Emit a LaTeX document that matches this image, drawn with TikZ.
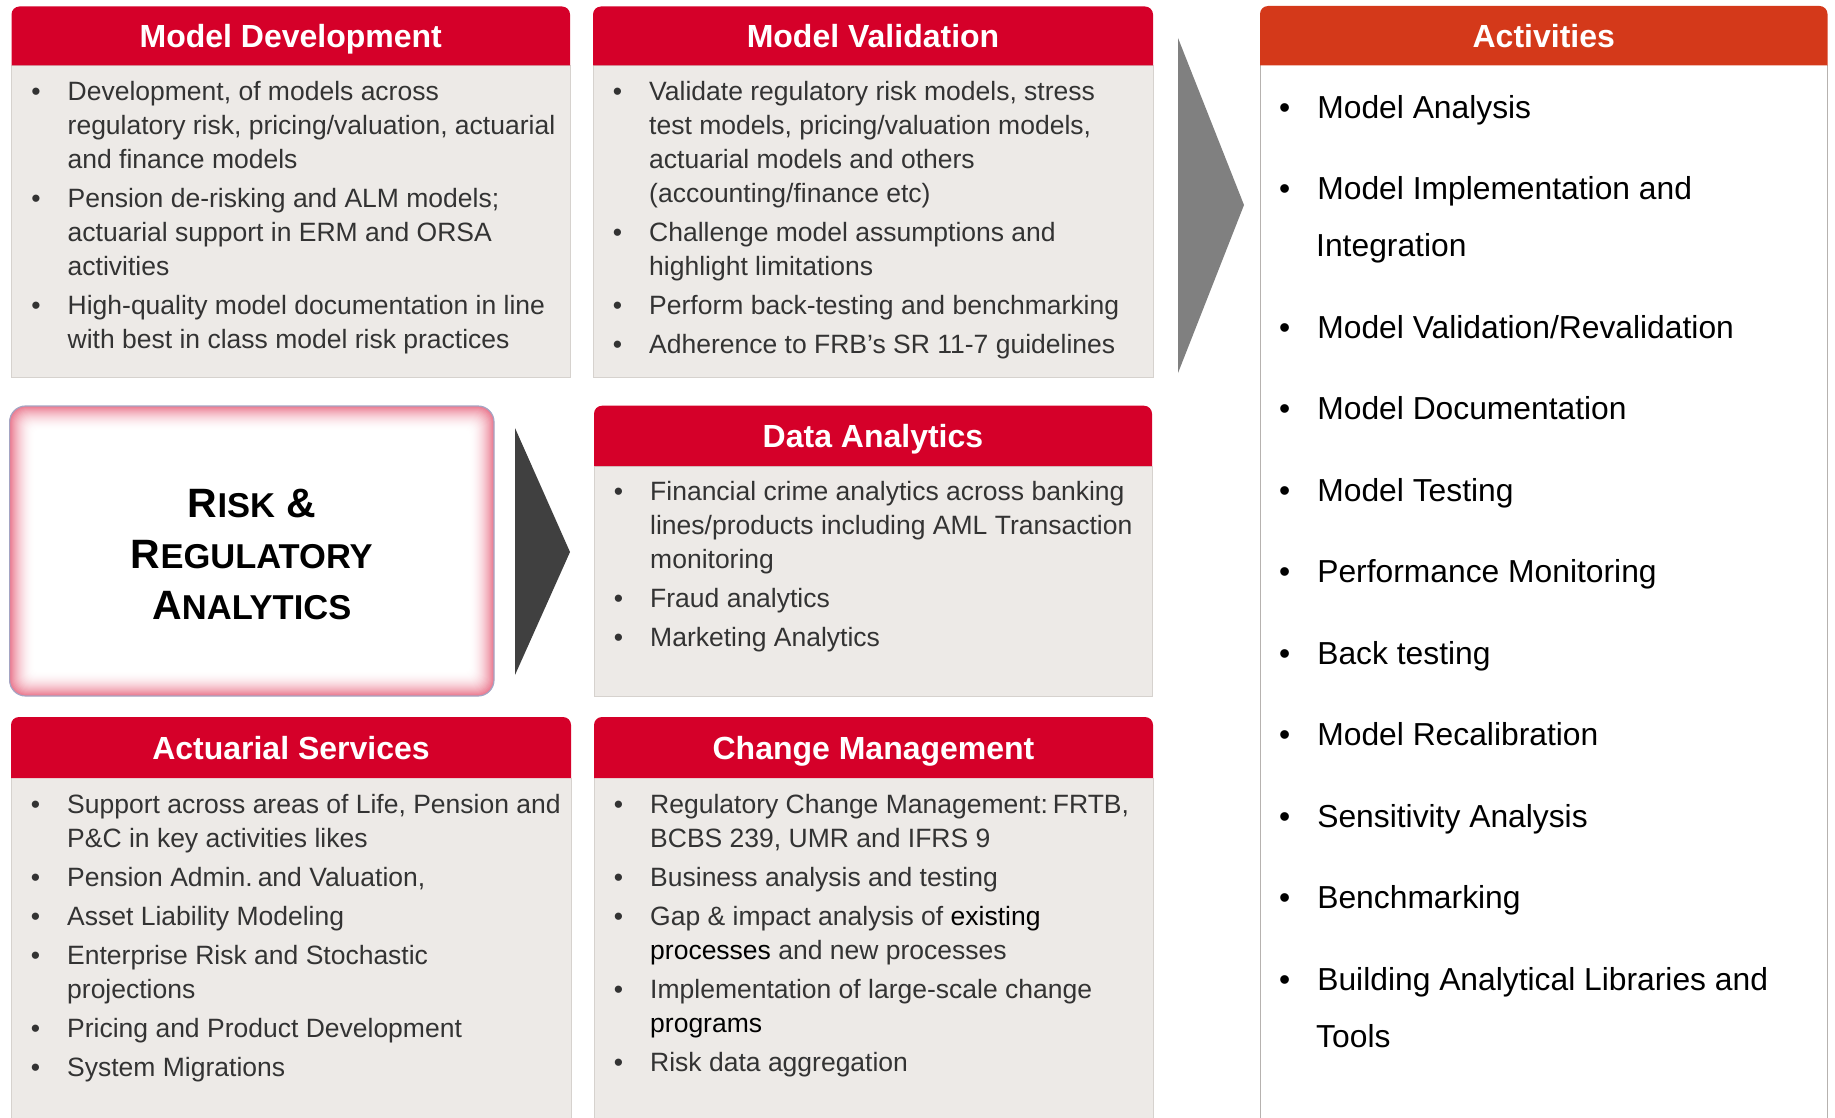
\documentclass[tikz,border=0pt]{standalone}
\usepackage{fontspec}
\setmainfont{Liberation Sans}
\usepackage{tikz}

\definecolor{headred}{RGB}{213,0,41}
\definecolor{headorange}{RGB}{212,57,26}
\definecolor{bodygray}{RGB}{237,234,231}
\definecolor{edgegray}{RGB}{214,210,206}
\definecolor{textgray}{RGB}{51,51,51}
\definecolor{arrowgray}{RGB}{128,128,128}
\definecolor{arrowdark}{RGB}{64,64,64}
\definecolor{glowred}{RGB}{222,40,75}
\definecolor{rimblue}{RGB}{165,165,195}

% #1 font size, #2 line distance, #3 gap between items
\newenvironment{bulletlist}[3]{%
  \setlength{\linewidth}{\hsize}%
  \fontsize{#1}{#2}\selectfont\raggedright
  \spaceskip=0.278em plus 0.1em minus 0.05em
  \begin{list}{\textbullet}{%
    \setlength{\leftmargin}{56pt}\setlength{\labelwidth}{10pt}%
    \setlength{\labelsep}{27pt}\setlength{\itemsep}{#3}%
    \setlength{\parsep}{0pt}\setlength{\topsep}{0pt}%
    \setlength{\partopsep}{0pt}\setlength{\itemindent}{0pt}}}
  {\end{list}}

\newcommand{\capsmall}[2]{{\fontsize{41}{51}\selectfont #1}{\fontsize{34.5}{51}\selectfont #2}}

\begin{document}
\begin{tikzpicture}[x=1pt,y=-1pt,
    title/.style={anchor=base,text=white,font=\bfseries\fontsize{32}{36}\selectfont},
    body/.style={anchor=north west,inner sep=0pt,text width=640pt,text=textgray},
    risk/.style={anchor=base,font=\bfseries}]
    \useasboundingbox (0,0) rectangle (1835,1118);

    % Model Development
    \filldraw[fill=bodygray,draw=edgegray] (11.5,65.5) rectangle (570,377);
    \fill[headred] (11.5,65.5) [rounded corners=8pt] -- (11.5,6.5) -- (570,6.5) [sharp corners] -- (570,65.5) -- cycle;
    \node[title] (mdtitle) at (290.75,47.5) {Model Development};
    \node[body] (mdlist) at (11.5,66) {\begin{bulletlist}{26.5}{34pt}{5pt}
        \item Development, of models across\\ regulatory risk, pricing/valuation, actuarial\\ and finance models
        \item Pension de-risking and ALM models;\\ actuarial support in ERM and ORSA\\ activities
        \item High-quality model documentation in line\\ with best in class model risk practices
    \end{bulletlist}};

    % Model Validation
    \filldraw[fill=bodygray,draw=edgegray] (593,65.5) rectangle (1153,377);
    \fill[headred] (593,65.5) [rounded corners=8pt] -- (593,6.5) -- (1153,6.5) [sharp corners] -- (1153,65.5) -- cycle;
    \node[title] (mvtitle) at (873,47.5) {Model Validation};
    \node[body] (mvlist) at (593,66) {\begin{bulletlist}{26.5}{34pt}{5pt}
        \item Validate regulatory risk models, stress\\ test models, pricing/valuation models,\\ actuarial models and others\\ (accounting/finance etc)
        \item Challenge model assumptions and\\ highlight limitations
        \item Perform back-testing and benchmarking
        \item Adherence to FRB’s SR 11-7 guidelines
    \end{bulletlist}};

    % Risk & Regulatory Analytics
    \foreach \k in {0,...,24}{
        \pgfmathsetmacro\pct{62*(1-\k/25)^2}
        \pgfmathsetmacro\rad{max(16-0.5*\k,3)}
        \fill[glowred!\pct!white,rounded corners=\rad pt] ({9.6+\k},{406+\k}) rectangle ({494-\k},{696-\k});
    }
    \draw[rimblue,line width=1.2pt,rounded corners=16pt] (9.6,406) rectangle (494,696);
    \node[risk] (risk1) at (251.8,517) {\capsmall{R}{ISK}\hspace{11pt}\capsmall{\&}{}};
    \node[risk] (risk2) at (251.8,568) {\capsmall{R}{EGULATORY}};
    \node[risk] (risk3) at (251.8,619) {\capsmall{A}{NALYTICS}};

    \fill[arrowdark] (515,428) -- (570,552) -- (515,675) -- cycle;

    % Data Analytics
    \filldraw[fill=bodygray,draw=edgegray] (594,466) rectangle (1152,696);
    \fill[headred] (594,466) [rounded corners=8pt] -- (594,405.7) -- (1152,405.7) [sharp corners] -- (1152,466) -- cycle;
    \node[title] (datitle) at (873,447.5) {Data Analytics};
    \node[body] (dalist) at (594,466) {\begin{bulletlist}{26.5}{34pt}{5pt}
        \item Financial crime analytics across banking\\ lines/products including AML Transaction\\ monitoring
        \item Fraud analytics
        \item Marketing Analytics
    \end{bulletlist}};

    % Actuarial Services
    \fill[bodygray] (11,778) rectangle (571,1118);
    \draw[edgegray] (11,778) -- (11,1118) (571,778) -- (571,1118);
    \fill[headred] (11,778) [rounded corners=8pt] -- (11,717) -- (571,717) [sharp corners] -- (571,778) -- cycle;
    \node[title] (astitle) at (291,759) {Actuarial Services};
    \node[body] (aslist) at (11,779) {\begin{bulletlist}{26.5}{34pt}{5pt}
        \item Support across areas of Life, Pension and\\ P\&C in key activities likes
        \item Pension Admin. and Valuation,
        \item Asset Liability Modeling
        \item Enterprise Risk and Stochastic\\ projections
        \item Pricing and Product Development
        \item System Migrations
    \end{bulletlist}};

    % Change Management
    \fill[bodygray] (594,778) rectangle (1153,1118);
    \draw[edgegray] (594,778) -- (594,1118) (1153,778) -- (1153,1118);
    \fill[headred] (594,778) [rounded corners=8pt] -- (594,717) -- (1153,717) [sharp corners] -- (1153,778) -- cycle;
    \node[title] (cmtitle) at (873.5,759) {Change Management};
    \node[body] (cmlist) at (594,779) {\begin{bulletlist}{26.5}{34pt}{5pt}
        \item Regulatory Change Management: FRTB,\\ BCBS 239, UMR and IFRS 9
        \item Business analysis and testing
        \item Gap \& impact analysis of {\color{black}existing}\\ {\color{black}processes} and new processes
        \item Implementation of large-scale change\\ {\color{black}programs}
        \item Risk data aggregation
    \end{bulletlist}};

    \fill[arrowgray] (1178,38) -- (1244,205) -- (1178,373) -- cycle;

    % Activities
    \draw[edgegray!85!black] (1260,65.5) -- (1260,1118) (1827.5,65.5) -- (1827.5,1118);
    \fill[headorange] (1260,65.5) [rounded corners=8pt] -- (1260,6) -- (1827.5,6) [sharp corners] -- (1827.5,65.5) -- cycle;
    \node[title] (acttitle) at (1543.75,47.5) {Activities};
    \node[body,text=black] (actlist) at (1260,61) {\begin{bulletlist}{31.8}{57pt}{24.5pt}
        \item Model Analysis
        \item Model Implementation and\\ Integration
        \item Model Validation/Revalidation
        \item Model Documentation
        \item Model Testing
        \item Performance Monitoring
        \item Back testing
        \item Model Recalibration
        \item Sensitivity Analysis
        \item Benchmarking
        \item Building Analytical Libraries and\\ Tools
    \end{bulletlist}};
\end{tikzpicture}
\end{document}
